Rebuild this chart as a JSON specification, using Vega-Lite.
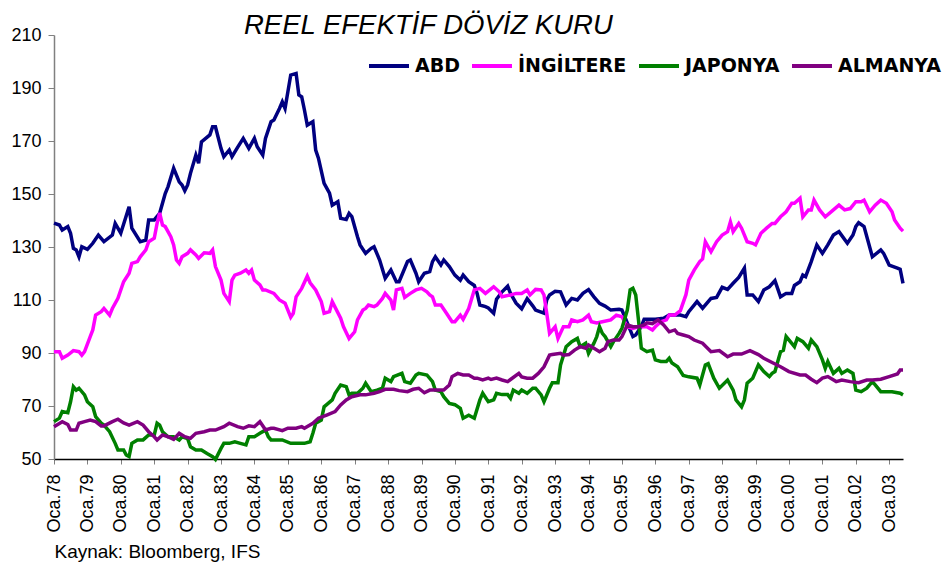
{
"$schema":"https://vega.github.io/schema/vega-lite/v6.json",
"width":849,"height":424,
"autosize":{"type":"none"},
"padding":{"left":54,"top":35,"right":40,"bottom":110},
"background":"white",
"config":{"view":{"stroke":null},"font":"Liberation Sans"},
"title":{"text":"REEL EFEKTİF DÖVİZ KURU","font":"Liberation Sans","fontStyle":"italic","fontWeight":"normal","fontSize":27.5,"anchor":"start","frame":"group","dx":190,"dy":16,"offset":3,"color":"black"},
"datasets":{
"abd":[{"d":"1978-01","v":139},{"d":"1978-03","v":138.3},{"d":"1978-04","v":136.4},{"d":"1978-06","v":137.7},{"d":"1978-07","v":135.2},{"d":"1978-08","v":129.5},{"d":"1978-09","v":128.9},{"d":"1978-10","v":126.3},{"d":"1978-11","v":130.1},{"d":"1979-01","v":129.1},{"d":"1979-03","v":131.4},{"d":"1979-05","v":134.5},{"d":"1979-07","v":132},{"d":"1979-10","v":134.5},{"d":"1979-11","v":138.9},{"d":"1980-01","v":135.2},{"d":"1980-04","v":145.2},{"d":"1980-05","v":137.1},{"d":"1980-08","v":132},{"d":"1980-10","v":132.6},{"d":"1980-11","v":140.2},{"d":"1981-01","v":140.2},{"d":"1981-03","v":142.7},{"d":"1981-05","v":150.2},{"d":"1981-06","v":152.8},{"d":"1981-08","v":159.7},{"d":"1981-10","v":154.6},{"d":"1981-11","v":153.4},{"d":"1981-12","v":151.2},{"d":"1982-01","v":153.4},{"d":"1982-02","v":157.8},{"d":"1982-04","v":164.7},{"d":"1982-05","v":161.6},{"d":"1982-06","v":169.7},{"d":"1982-09","v":172.3},{"d":"1982-10","v":175.4},{"d":"1982-11","v":175.4},{"d":"1983-01","v":167.2},{"d":"1983-02","v":164.1},{"d":"1983-04","v":166.6},{"d":"1983-05","v":164.1},{"d":"1983-07","v":167.6},{"d":"1983-09","v":171},{"d":"1983-11","v":167.2},{"d":"1984-01","v":171},{"d":"1984-02","v":167.8},{"d":"1984-04","v":164.7},{"d":"1984-05","v":171},{"d":"1984-07","v":177.3},{"d":"1984-08","v":177.9},{"d":"1984-10","v":182.3},{"d":"1984-11","v":184.8},{"d":"1984-12","v":182.3},{"d":"1985-01","v":188.6},{"d":"1985-02","v":194.9},{"d":"1985-04","v":195.5},{"d":"1985-05","v":187.4},{"d":"1985-06","v":186.7},{"d":"1985-07","v":181.7},{"d":"1985-08","v":176},{"d":"1985-10","v":177.3},{"d":"1985-11","v":166.6},{"d":"1985-12","v":163.5},{"d":"1986-02","v":154},{"d":"1986-04","v":150.3},{"d":"1986-05","v":145.8},{"d":"1986-07","v":147.1},{"d":"1986-08","v":140.8},{"d":"1986-10","v":140.4},{"d":"1986-11","v":142.7},{"d":"1986-12","v":141.5},{"d":"1987-02","v":133.9},{"d":"1987-03","v":130.8},{"d":"1987-05","v":127.6},{"d":"1987-07","v":129.5},{"d":"1987-08","v":130.1},{"d":"1987-10","v":125.1},{"d":"1987-12","v":118.2},{"d":"1988-02","v":121.3},{"d":"1988-04","v":116.9},{"d":"1988-05","v":116.9},{"d":"1988-08","v":124.5},{"d":"1988-09","v":125.1},{"d":"1988-11","v":120.1},{"d":"1988-12","v":116.9},{"d":"1989-02","v":120.1},{"d":"1989-04","v":120.7},{"d":"1989-05","v":124.5},{"d":"1989-06","v":126.3},{"d":"1989-08","v":123.2},{"d":"1989-09","v":125.1},{"d":"1989-11","v":122.6},{"d":"1990-01","v":119.4},{"d":"1990-03","v":117.5},{"d":"1990-04","v":119.4},{"d":"1990-06","v":116.9},{"d":"1990-08","v":115.5},{"d":"1990-09","v":112.5},{"d":"1990-10","v":108.1},{"d":"1990-12","v":107.5},{"d":"1991-01","v":107},{"d":"1991-03","v":105},{"d":"1991-04","v":110.3},{"d":"1991-06","v":113.1},{"d":"1991-08","v":115.2},{"d":"1991-09","v":112.5},{"d":"1991-11","v":108.8},{"d":"1992-01","v":106.7},{"d":"1992-03","v":110.5},{"d":"1992-05","v":107.8},{"d":"1992-06","v":106.2},{"d":"1992-09","v":105},{"d":"1992-10","v":110},{"d":"1992-11","v":111.9},{"d":"1993-01","v":113.3},{"d":"1993-03","v":113.1},{"d":"1993-05","v":108.1},{"d":"1993-07","v":110.6},{"d":"1993-09","v":110},{"d":"1993-11","v":112.5},{"d":"1994-01","v":113.9},{"d":"1994-03","v":111.2},{"d":"1994-05","v":108.7},{"d":"1994-07","v":107.7},{"d":"1994-09","v":106.2},{"d":"1994-12","v":106.5},{"d":"1995-01","v":106.2},{"d":"1995-02","v":103.7},{"d":"1995-04","v":98.7},{"d":"1995-05","v":96.2},{"d":"1995-06","v":96.8},{"d":"1995-08","v":100},{"d":"1995-09","v":102.7},{"d":"1996-01","v":102.7},{"d":"1996-04","v":103.1},{"d":"1996-06","v":104.3},{"d":"1996-10","v":104.3},{"d":"1996-12","v":103.7},{"d":"1997-01","v":105.6},{"d":"1997-04","v":109.4},{"d":"1997-06","v":106.9},{"d":"1997-09","v":110.6},{"d":"1997-11","v":111},{"d":"1998-01","v":114.8},{"d":"1998-03","v":114},{"d":"1998-05","v":116.3},{"d":"1998-07","v":118.5},{"d":"1998-09","v":122},{"d":"1998-10","v":111.9},{"d":"1998-12","v":111.9},{"d":"1999-02","v":109.4},{"d":"1999-04","v":113.8},{"d":"1999-06","v":115},{"d":"1999-08","v":117.3},{"d":"1999-10","v":111.2},{"d":"1999-12","v":112.5},{"d":"2000-02","v":112.5},{"d":"2000-03","v":115.5},{"d":"2000-05","v":116.9},{"d":"2000-06","v":119.4},{"d":"2000-07","v":118.8},{"d":"2000-09","v":124.5},{"d":"2000-11","v":130.8},{"d":"2001-01","v":127.6},{"d":"2001-03","v":130.8},{"d":"2001-05","v":134.5},{"d":"2001-07","v":135.8},{"d":"2001-10","v":131.4},{"d":"2001-12","v":134.5},{"d":"2002-01","v":137.7},{"d":"2002-02","v":139.2},{"d":"2002-04","v":137.7},{"d":"2002-07","v":126.3},{"d":"2002-10","v":128.9},{"d":"2002-11","v":127.6},{"d":"2003-01","v":123.2},{"d":"2003-04","v":122},{"d":"2003-05","v":121.6},{"d":"2003-06","v":116.3}],
"ing":[{"d":"1978-01","v":90.5},{"d":"1978-03","v":90.5},{"d":"1978-04","v":88},{"d":"1978-06","v":89.2},{"d":"1978-08","v":90.9},{"d":"1978-10","v":90.5},{"d":"1978-11","v":89.2},{"d":"1978-12","v":90.5},{"d":"1979-02","v":96.2},{"d":"1979-03","v":98.7},{"d":"1979-04","v":104.3},{"d":"1979-06","v":105.6},{"d":"1979-07","v":106.8},{"d":"1979-09","v":104.3},{"d":"1979-10","v":106.8},{"d":"1979-12","v":110.6},{"d":"1980-02","v":116.9},{"d":"1980-04","v":120.1},{"d":"1980-05","v":123.8},{"d":"1980-07","v":124.5},{"d":"1980-08","v":126.3},{"d":"1980-10","v":128.9},{"d":"1980-11","v":132},{"d":"1981-01","v":133.3},{"d":"1981-02","v":138.9},{"d":"1981-03","v":142.9},{"d":"1981-04","v":138.3},{"d":"1981-05","v":137.7},{"d":"1981-07","v":133.9},{"d":"1981-08","v":130.8},{"d":"1981-09","v":125.1},{"d":"1981-10","v":123.8},{"d":"1981-11","v":126.3},{"d":"1982-01","v":127.6},{"d":"1982-02","v":128.9},{"d":"1982-04","v":127},{"d":"1982-05","v":125.7},{"d":"1982-07","v":127.8},{"d":"1982-09","v":127.6},{"d":"1982-10","v":128.9},{"d":"1982-11","v":122.6},{"d":"1983-01","v":117.5},{"d":"1983-02","v":112.5},{"d":"1983-04","v":109.4},{"d":"1983-05","v":117.5},{"d":"1983-06","v":119.4},{"d":"1983-08","v":120.1},{"d":"1983-10","v":121.3},{"d":"1983-11","v":120.1},{"d":"1983-12","v":121.3},{"d":"1984-01","v":117.5},{"d":"1984-03","v":115.7},{"d":"1984-04","v":113.8},{"d":"1984-05","v":113.8},{"d":"1984-08","v":112.5},{"d":"1984-10","v":110},{"d":"1984-12","v":108.8},{"d":"1985-02","v":103.5},{"d":"1985-03","v":105},{"d":"1985-04","v":111.2},{"d":"1985-06","v":114.4},{"d":"1985-08","v":119},{"d":"1985-09","v":116.5},{"d":"1985-11","v":113.8},{"d":"1986-01","v":109.4},{"d":"1986-02","v":105},{"d":"1986-04","v":105.6},{"d":"1986-05","v":109.4},{"d":"1986-08","v":103.1},{"d":"1986-09","v":99.9},{"d":"1986-11","v":95.5},{"d":"1987-01","v":98},{"d":"1987-02","v":102.5},{"d":"1987-04","v":106.2},{"d":"1987-05","v":106.8},{"d":"1987-06","v":108.1},{"d":"1987-08","v":107.5},{"d":"1987-09","v":108.1},{"d":"1987-11","v":110.6},{"d":"1987-12","v":112.5},{"d":"1988-02","v":110},{"d":"1988-03","v":106.2},{"d":"1988-04","v":113.8},{"d":"1988-06","v":114.4},{"d":"1988-07","v":111},{"d":"1988-09","v":112.5},{"d":"1988-11","v":113.8},{"d":"1989-01","v":114.4},{"d":"1989-03","v":113.1},{"d":"1989-04","v":111.9},{"d":"1989-05","v":111.2},{"d":"1989-06","v":108.1},{"d":"1989-08","v":108.1},{"d":"1989-10","v":105},{"d":"1989-12","v":101.8},{"d":"1990-01","v":101.8},{"d":"1990-03","v":104.3},{"d":"1990-04","v":102.7},{"d":"1990-06","v":106.8},{"d":"1990-08","v":113.8},{"d":"1990-10","v":114.4},{"d":"1990-12","v":112.5},{"d":"1991-03","v":115},{"d":"1991-05","v":113.1},{"d":"1991-06","v":111.2},{"d":"1991-09","v":111.9},{"d":"1991-11","v":112.5},{"d":"1992-01","v":112.5},{"d":"1992-03","v":113.8},{"d":"1992-04","v":111.9},{"d":"1992-06","v":114},{"d":"1992-08","v":113.8},{"d":"1992-09","v":111.9},{"d":"1992-10","v":105},{"d":"1992-11","v":97.4},{"d":"1993-01","v":99.9},{"d":"1993-02","v":95.5},{"d":"1993-04","v":99.9},{"d":"1993-06","v":99.9},{"d":"1993-07","v":102.5},{"d":"1993-09","v":101.8},{"d":"1993-11","v":102.5},{"d":"1994-01","v":104.3},{"d":"1994-02","v":101.8},{"d":"1994-04","v":101.3},{"d":"1994-06","v":101.8},{"d":"1994-09","v":102.5},{"d":"1994-11","v":104.3},{"d":"1995-01","v":103.7},{"d":"1995-03","v":99.9},{"d":"1995-05","v":99.3},{"d":"1995-07","v":99.9},{"d":"1995-10","v":99.9},{"d":"1995-12","v":98.7},{"d":"1996-01","v":99.9},{"d":"1996-03","v":101.8},{"d":"1996-05","v":102.5},{"d":"1996-06","v":104.3},{"d":"1996-08","v":104.3},{"d":"1996-10","v":106},{"d":"1996-12","v":112},{"d":"1997-01","v":117.5},{"d":"1997-03","v":121.3},{"d":"1997-05","v":124.5},{"d":"1997-06","v":125.5},{"d":"1997-07","v":132},{"d":"1997-09","v":128.2},{"d":"1997-11","v":132},{"d":"1998-01","v":134.5},{"d":"1998-03","v":135.8},{"d":"1998-04","v":139.5},{"d":"1998-05","v":135.8},{"d":"1998-07","v":138.9},{"d":"1998-08","v":137.1},{"d":"1998-10","v":132},{"d":"1998-12","v":131.4},{"d":"1999-01","v":130.8},{"d":"1999-03","v":135.2},{"d":"1999-05","v":137.1},{"d":"1999-07","v":138.9},{"d":"1999-08","v":138.9},{"d":"1999-10","v":141.4},{"d":"1999-12","v":143.3},{"d":"2000-02","v":146.5},{"d":"2000-03","v":146.5},{"d":"2000-05","v":148.4},{"d":"2000-06","v":141.4},{"d":"2000-08","v":144},{"d":"2000-09","v":144},{"d":"2000-10","v":147.7},{"d":"2000-12","v":144},{"d":"2001-02","v":141.4},{"d":"2001-05","v":144},{"d":"2001-07","v":145.8},{"d":"2001-09","v":144},{"d":"2001-11","v":144.5},{"d":"2002-01","v":147.1},{"d":"2002-03","v":147.1},{"d":"2002-04","v":147.7},{"d":"2002-06","v":143.3},{"d":"2002-08","v":145.8},{"d":"2002-10","v":147.7},{"d":"2002-12","v":146.5},{"d":"2003-02","v":143.3},{"d":"2003-03","v":140.2},{"d":"2003-05","v":137.1},{"d":"2003-06","v":136}],
"jap":[{"d":"1978-01","v":64.1},{"d":"1978-03","v":65.4},{"d":"1978-04","v":67.9},{"d":"1978-06","v":67.5},{"d":"1978-07","v":71.6},{"d":"1978-08","v":77.3},{"d":"1978-09","v":76},{"d":"1978-10","v":76.7},{"d":"1978-12","v":74.2},{"d":"1979-01","v":71.6},{"d":"1979-03","v":69.7},{"d":"1979-04","v":66},{"d":"1979-06","v":63.5},{"d":"1979-07","v":62.8},{"d":"1979-09","v":60.3},{"d":"1979-11","v":55.9},{"d":"1979-12","v":53.4},{"d":"1980-02","v":53.4},{"d":"1980-03","v":51.5},{"d":"1980-04","v":50.9},{"d":"1980-05","v":55.9},{"d":"1980-07","v":57.2},{"d":"1980-09","v":57.2},{"d":"1980-11","v":59.1},{"d":"1981-01","v":59.1},{"d":"1981-02","v":63.5},{"d":"1981-03","v":62.8},{"d":"1981-04","v":60.3},{"d":"1981-06","v":58.4},{"d":"1981-08","v":58.4},{"d":"1981-10","v":57.2},{"d":"1981-11","v":58.4},{"d":"1982-01","v":57.7},{"d":"1982-02","v":54.6},{"d":"1982-04","v":53.4},{"d":"1982-06","v":53.4},{"d":"1982-08","v":52.1},{"d":"1982-10","v":50.9},{"d":"1982-11","v":49.8},{"d":"1983-01","v":54},{"d":"1983-02","v":55.9},{"d":"1983-04","v":55.9},{"d":"1983-06","v":56.5},{"d":"1983-08","v":55.9},{"d":"1983-10","v":55.3},{"d":"1983-11","v":58.4},{"d":"1984-01","v":58.4},{"d":"1984-03","v":59.7},{"d":"1984-05","v":60.9},{"d":"1984-06","v":58.4},{"d":"1984-07","v":57.2},{"d":"1984-10","v":57.2},{"d":"1984-11","v":57.2},{"d":"1985-02","v":55.9},{"d":"1985-04","v":55.9},{"d":"1985-07","v":55.9},{"d":"1985-09","v":56.5},{"d":"1985-10","v":59.7},{"d":"1985-11","v":63.5},{"d":"1986-01","v":64.7},{"d":"1986-02","v":69.7},{"d":"1986-03","v":70.5},{"d":"1986-05","v":72.3},{"d":"1986-06","v":74.8},{"d":"1986-08","v":77.9},{"d":"1986-10","v":77.3},{"d":"1986-11","v":74.2},{"d":"1986-12","v":74.8},{"d":"1987-02","v":74.8},{"d":"1987-04","v":76.7},{"d":"1987-05","v":78.6},{"d":"1987-07","v":75.4},{"d":"1987-09","v":76},{"d":"1987-11","v":76.7},{"d":"1987-12","v":80.5},{"d":"1988-02","v":79.2},{"d":"1988-03","v":81.1},{"d":"1988-06","v":82.3},{"d":"1988-07","v":79.2},{"d":"1988-09","v":78.6},{"d":"1988-11","v":81.7},{"d":"1988-12","v":82.3},{"d":"1989-03","v":81.7},{"d":"1989-05","v":79.2},{"d":"1989-06","v":76},{"d":"1989-08","v":75.4},{"d":"1989-09","v":73.5},{"d":"1989-11","v":71},{"d":"1990-01","v":70.5},{"d":"1990-03","v":69.1},{"d":"1990-04","v":65.4},{"d":"1990-06","v":66.5},{"d":"1990-08","v":65.4},{"d":"1990-10","v":72.3},{"d":"1990-11","v":74.8},{"d":"1991-01","v":71.6},{"d":"1991-03","v":72.3},{"d":"1991-04","v":74.8},{"d":"1991-06","v":74.3},{"d":"1991-08","v":74.3},{"d":"1991-09","v":72.9},{"d":"1991-10","v":76},{"d":"1991-12","v":74.8},{"d":"1992-01","v":76},{"d":"1992-03","v":74.8},{"d":"1992-05","v":76.7},{"d":"1992-06","v":76.7},{"d":"1992-08","v":74.2},{"d":"1992-09","v":71.6},{"d":"1992-11","v":76.7},{"d":"1992-12","v":78.8},{"d":"1993-02","v":78.8},{"d":"1993-03","v":85.5},{"d":"1993-05","v":92.4},{"d":"1993-07","v":94.3},{"d":"1993-09","v":95.5},{"d":"1993-10","v":92.4},{"d":"1993-12","v":93.7},{"d":"1994-01","v":89.9},{"d":"1994-03","v":93.7},{"d":"1994-04","v":96.2},{"d":"1994-05","v":99.9},{"d":"1994-06","v":97.4},{"d":"1994-07","v":96.2},{"d":"1994-09","v":92.4},{"d":"1994-10","v":94.3},{"d":"1994-12","v":97.4},{"d":"1995-01","v":99.3},{"d":"1995-03","v":106.2},{"d":"1995-04","v":113.8},{"d":"1995-05","v":114.4},{"d":"1995-06","v":111.9},{"d":"1995-07","v":102.5},{"d":"1995-08","v":91.8},{"d":"1995-10","v":90.5},{"d":"1995-12","v":91.1},{"d":"1996-01","v":87.4},{"d":"1996-03","v":86.8},{"d":"1996-05","v":86.8},{"d":"1996-06","v":88},{"d":"1996-07","v":86.2},{"d":"1996-09","v":84.8},{"d":"1996-11","v":81.5},{"d":"1997-01","v":81},{"d":"1997-04","v":80.5},{"d":"1997-05","v":77.9},{"d":"1997-07","v":85.5},{"d":"1997-08","v":86},{"d":"1997-10","v":80.5},{"d":"1997-12","v":76.7},{"d":"1998-03","v":79.8},{"d":"1998-05","v":76},{"d":"1998-06","v":72.3},{"d":"1998-08","v":69.7},{"d":"1998-09","v":72.3},{"d":"1998-10","v":78.6},{"d":"1998-12","v":80.5},{"d":"1999-02","v":85.5},{"d":"1999-04","v":83},{"d":"1999-06","v":81.1},{"d":"1999-07","v":82.3},{"d":"1999-08","v":83},{"d":"1999-10","v":90.5},{"d":"1999-11","v":91},{"d":"1999-12","v":96.2},{"d":"2000-02","v":93.6},{"d":"2000-03","v":92.4},{"d":"2000-04","v":95.5},{"d":"2000-06","v":94.3},{"d":"2000-08","v":91.8},{"d":"2000-09","v":94.9},{"d":"2000-11","v":92.4},{"d":"2001-01","v":87.4},{"d":"2001-02","v":84.2},{"d":"2001-03","v":86.8},{"d":"2001-05","v":82.3},{"d":"2001-07","v":84.2},{"d":"2001-08","v":82.3},{"d":"2001-10","v":83.6},{"d":"2001-12","v":82.3},{"d":"2002-01","v":76},{"d":"2002-03","v":75.4},{"d":"2002-05","v":76.7},{"d":"2002-07","v":79.2},{"d":"2002-08","v":78},{"d":"2002-10","v":75.4},{"d":"2002-12","v":75.4},{"d":"2003-02","v":75.4},{"d":"2003-05","v":74.8},{"d":"2003-06","v":74.2}],
"alm":[{"d":"1978-01","v":62.2},{"d":"1978-04","v":64.1},{"d":"1978-06","v":63},{"d":"1978-07","v":60.9},{"d":"1978-09","v":60.9},{"d":"1978-10","v":63.5},{"d":"1978-12","v":64.1},{"d":"1979-02","v":64.7},{"d":"1979-04","v":64.1},{"d":"1979-06","v":62.5},{"d":"1979-07","v":62.5},{"d":"1979-10","v":64.1},{"d":"1979-12","v":65},{"d":"1980-02","v":63.6},{"d":"1980-04","v":62.8},{"d":"1980-07","v":64.1},{"d":"1980-09","v":62.8},{"d":"1980-11","v":60.3},{"d":"1981-01","v":58.4},{"d":"1981-02","v":57.2},{"d":"1981-04","v":59.1},{"d":"1981-06","v":58.4},{"d":"1981-08","v":57.4},{"d":"1981-10","v":59.7},{"d":"1981-12","v":58.4},{"d":"1982-02","v":57.8},{"d":"1982-04","v":59.7},{"d":"1982-07","v":60.3},{"d":"1982-09","v":60.9},{"d":"1982-11","v":60.9},{"d":"1983-02","v":62.2},{"d":"1983-04","v":63.5},{"d":"1983-07","v":62.2},{"d":"1983-09","v":61.6},{"d":"1983-11","v":62.5},{"d":"1984-01","v":62.2},{"d":"1984-03","v":64.1},{"d":"1984-05","v":61},{"d":"1984-07","v":61.6},{"d":"1984-08","v":61.6},{"d":"1984-11","v":60.7},{"d":"1985-01","v":61.6},{"d":"1985-04","v":61.6},{"d":"1985-06","v":62.2},{"d":"1985-07","v":61.6},{"d":"1985-10","v":63.5},{"d":"1985-12","v":65.4},{"d":"1986-03","v":66.6},{"d":"1986-06","v":67.9},{"d":"1986-08","v":70.4},{"d":"1986-10","v":72.3},{"d":"1986-12","v":73.5},{"d":"1987-03","v":74.2},{"d":"1987-05","v":74.2},{"d":"1987-08","v":74.8},{"d":"1987-10","v":75.4},{"d":"1987-12","v":76.3},{"d":"1988-03","v":76.3},{"d":"1988-05","v":75.8},{"d":"1988-08","v":75.4},{"d":"1988-10","v":76.3},{"d":"1988-12","v":76.7},{"d":"1989-02","v":75},{"d":"1989-04","v":76},{"d":"1989-06","v":76},{"d":"1989-09","v":76},{"d":"1989-11","v":77.9},{"d":"1989-12","v":81.1},{"d":"1990-02","v":82.3},{"d":"1990-04","v":81.7},{"d":"1990-06","v":81.7},{"d":"1990-08","v":80.5},{"d":"1990-09","v":80.5},{"d":"1990-11","v":79.8},{"d":"1991-01","v":80.5},{"d":"1991-02","v":80},{"d":"1991-04","v":80.5},{"d":"1991-06","v":79.8},{"d":"1991-08","v":79.2},{"d":"1991-09","v":80},{"d":"1991-12","v":82.3},{"d":"1992-01","v":81},{"d":"1992-03","v":80.5},{"d":"1992-05","v":80.5},{"d":"1992-07","v":82.3},{"d":"1992-09","v":84.8},{"d":"1992-11","v":89.2},{"d":"1992-12","v":89.4},{"d":"1993-03","v":89.9},{"d":"1993-04","v":89.2},{"d":"1993-06","v":89.4},{"d":"1993-08","v":91.1},{"d":"1993-10","v":92.4},{"d":"1993-12","v":91.8},{"d":"1994-01","v":93},{"d":"1994-03","v":91.8},{"d":"1994-05","v":90.5},{"d":"1994-07","v":91.8},{"d":"1994-08","v":94.3},{"d":"1994-10","v":94.9},{"d":"1994-12","v":94.9},{"d":"1995-01","v":96.2},{"d":"1995-03","v":100.6},{"d":"1995-05","v":99.9},{"d":"1995-07","v":99.9},{"d":"1995-09","v":100.6},{"d":"1995-10","v":101.4},{"d":"1995-12","v":101.1},{"d":"1996-02","v":102.5},{"d":"1996-04","v":100.6},{"d":"1996-06","v":98},{"d":"1996-08","v":98.7},{"d":"1996-09","v":97.4},{"d":"1996-11","v":96.8},{"d":"1997-01","v":96.2},{"d":"1997-03","v":94.9},{"d":"1997-06","v":93.7},{"d":"1997-09","v":90.5},{"d":"1997-12","v":90.9},{"d":"1998-03","v":88.6},{"d":"1998-05","v":89.6},{"d":"1998-08","v":89.6},{"d":"1998-11","v":90.9},{"d":"1999-02","v":89.4},{"d":"1999-04","v":88},{"d":"1999-07","v":86.4},{"d":"1999-10","v":84.8},{"d":"2000-01","v":83},{"d":"2000-05","v":81.7},{"d":"2000-07","v":81.7},{"d":"2000-09","v":80.1},{"d":"2000-11","v":78.8},{"d":"2001-01","v":80.5},{"d":"2001-03","v":81.1},{"d":"2001-06","v":79.2},{"d":"2001-08","v":79.8},{"d":"2001-11","v":79.2},{"d":"2002-02","v":78.8},{"d":"2002-05","v":79.8},{"d":"2002-07","v":79.8},{"d":"2002-10","v":80.1},{"d":"2003-01","v":81.1},{"d":"2003-04","v":82.1},{"d":"2003-05","v":83.6},{"d":"2003-06","v":83.6}]
},
"encoding":{
"x":{"field":"d","type":"temporal","scale":{"type":"utc","domain":[{"year":1978,"month":1,"date":1,"utc":true},{"year":2003,"month":6,"date":1,"utc":true}]},
"axis":{"values":[{"year":1978,"month":1,"date":1,"utc":true},{"year":1979,"month":1,"date":1,"utc":true},{"year":1980,"month":1,"date":1,"utc":true},{"year":1981,"month":1,"date":1,"utc":true},{"year":1982,"month":1,"date":1,"utc":true},{"year":1983,"month":1,"date":1,"utc":true},{"year":1984,"month":1,"date":1,"utc":true},{"year":1985,"month":1,"date":1,"utc":true},{"year":1986,"month":1,"date":1,"utc":true},{"year":1987,"month":1,"date":1,"utc":true},{"year":1988,"month":1,"date":1,"utc":true},{"year":1989,"month":1,"date":1,"utc":true},{"year":1990,"month":1,"date":1,"utc":true},{"year":1991,"month":1,"date":1,"utc":true},{"year":1992,"month":1,"date":1,"utc":true},{"year":1993,"month":1,"date":1,"utc":true},{"year":1994,"month":1,"date":1,"utc":true},{"year":1995,"month":1,"date":1,"utc":true},{"year":1996,"month":1,"date":1,"utc":true},{"year":1997,"month":1,"date":1,"utc":true},{"year":1998,"month":1,"date":1,"utc":true},{"year":1999,"month":1,"date":1,"utc":true},{"year":2000,"month":1,"date":1,"utc":true},{"year":2001,"month":1,"date":1,"utc":true},{"year":2002,"month":1,"date":1,"utc":true},{"year":2003,"month":1,"date":1,"utc":true}],
"labelExpr":"'Oca.' + utcFormat(datum.value, '%y')","labelAngle":270,"labelFont":"Liberation Sans","labelFontSize":18,"labelColor":"black","labelPadding":10,"labelOverlap":false,"labelFlush":false,
"tickColor":"#808080","tickSize":5,"domainColor":"black","domainWidth":1.5,"grid":false,
"title":"Kaynak: Bloomberg, IFS","titleFont":"Liberation Sans","titleFontSize":19,"titleFontWeight":"normal","titleColor":"black","titleAnchor":"start","titleAlign":"left","titlePadding":10}},
"y":{"field":"v","type":"quantitative","scale":{"domain":[50,210],"nice":false,"zero":false},
"axis":{"values":[50,70,90,110,130,150,170,190,210],"labelFont":"Liberation Sans","labelFontSize":18,"labelColor":"black","labelPadding":7,"tickSize":6,"tickColor":"#808080","domainColor":"#808080","domainWidth":1.5,"grid":false,"title":null}}
},
"layer":[
{"data":{"name":"abd"},"mark":{"type":"line","strokeWidth":3.5},"encoding":{"color":{"datum":"ABD","type":"nominal","scale":{"domain":["ABD","İNGİLTERE","JAPONYA","ALMANYA"],"range":["#000080","#FF00FF","#008000","#800080"]},
"legend":{"orient":"none","legendX":313,"legendY":9,"direction":"horizontal","title":null,"symbolType":"stroke","symbolSize":1600,"symbolStrokeWidth":4,"labelFont":"DejaVu Sans","labelFontWeight":"bold","labelFontSize":19,"labelColor":"black","labelOffset":4,"columnPadding":4,"labelLimit":300}}}},
{"data":{"name":"ing"},"mark":{"type":"line","strokeWidth":3.5},"encoding":{"color":{"datum":"İNGİLTERE","type":"nominal"}}},
{"data":{"name":"jap"},"mark":{"type":"line","strokeWidth":3.5},"encoding":{"color":{"datum":"JAPONYA","type":"nominal"}}},
{"data":{"name":"alm"},"mark":{"type":"line","strokeWidth":3.5},"encoding":{"color":{"datum":"ALMANYA","type":"nominal"}}}
]
}
